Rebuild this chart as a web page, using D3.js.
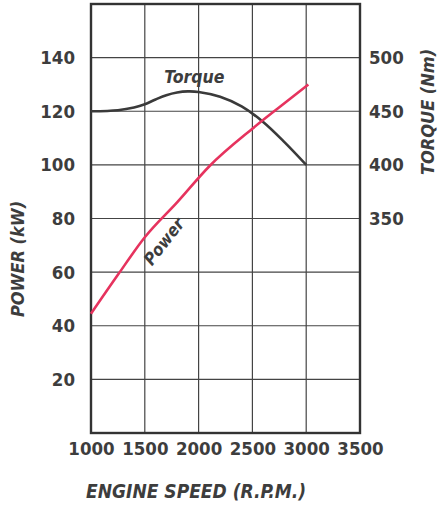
<!DOCTYPE html>
<html><head><meta charset="utf-8">
<script src="https://cdn.jsdelivr.net/npm/d3@7/dist/d3.min.js"></script>
<style>
html,body{margin:0;padding:0;background:#fff;}
text{font-family:"DejaVu Sans Condensed","Liberation Sans Narrow",sans-serif;font-weight:bold;fill:#3d3d3d;}
</style></head>
<body>
<svg id="chart" width="441" height="508"></svg>
<script>
const xTicks = [1000,1500,2000,2500,3000,3500];
const powerTicks = [20,40,60,80,100,120,140];
const torqueTicks = [350,400,450,500];
const torqueRpm = [1000,1250,1400,1500,1600,1700,1800,1900,2000,2200,2400,2600,2800,3000];
const torqueNm  = [450,451,453.5,456.5,461,465,467.5,468.5,468,463.5,454.5,440,421,400];
const powerRpm = [1000,1250,1500,1800,2100,2500,2750,3020];
const powerKw  = [44.5,59,73,86,99.5,113.5,121.5,130];

const svg = d3.select("#chart");
const L=91,R=360,T=4,B=433;
const x = d3.scaleLinear().domain([1000,3500]).range([L,R]);
const yP = d3.scaleLinear().domain([0,160]).range([B,T]);
const yT = d3.scaleLinear().domain([150,550]).range([B,T]);

// grid
const g = svg.append("g");
g.selectAll(".h").data(powerTicks).join("line")
 .attr("x1",L).attr("x2",R).attr("y1",d=>yP(d)).attr("y2",d=>yP(d))
 .attr("stroke","#444").attr("stroke-width",1.2);
g.selectAll(".v").data(xTicks.slice(1,-1)).join("line")
 .attr("y1",T).attr("y2",B).attr("x1",d=>x(d)).attr("x2",d=>x(d))
 .attr("stroke","#444").attr("stroke-width",1.2);
svg.append("rect").attr("x",L).attr("y",T).attr("width",R-L).attr("height",B-T)
 .attr("fill","none").attr("stroke","#333").attr("stroke-width",2.4);

// axes (labels only)
const axL = d3.axisLeft(yP).tickValues(powerTicks).tickSize(0).tickPadding(16);
const axR = d3.axisRight(yT).tickValues(torqueTicks).tickSize(0).tickPadding(9);
const axB = d3.axisBottom(x).tickValues(xTicks).tickSize(0).tickPadding(9).tickFormat(d3.format("d"));
function style(sel){sel.select(".domain").remove();sel.selectAll("text").attr("font-size",18.5).attr("fill","#3d3d3d").style("font-family",null);}
svg.append("g").attr("transform",`translate(${L},0)`).call(axL).call(style);
svg.append("g").attr("transform",`translate(${R},0)`).call(axR).call(style);
svg.append("g").attr("transform",`translate(0,${B})`).call(axB).call(style);

// curves
const torqueData = torqueRpm.map((r,i)=>[r,torqueNm[i]]);
const powerData = powerRpm.map((r,i)=>[r,powerKw[i]]);
svg.append("path").datum(torqueData)
 .attr("d",d3.line().x(d=>x(d[0])).y(d=>yT(d[1])).curve(d3.curveCatmullRom.alpha(0.5)))
 .attr("fill","none").attr("stroke","#3a3a3a").attr("stroke-width",2.6);
svg.append("path").datum(powerData)
 .attr("d",d3.line().x(d=>x(d[0])).y(d=>yP(d[1])).curve(d3.curveMonotoneX))
 .attr("fill","none").attr("stroke","#e6335e").attr("stroke-width",2.6);

// series labels
svg.append("text").attr("x",x(1680)).attr("y",yP(130.5)).attr("font-size",17.5).attr("font-style","italic").text("Torque");
svg.append("text").attr("transform",`translate(${x(1720)},${yP(70)}) rotate(-52)`)
 .attr("text-anchor","middle").attr("font-size",17).attr("font-style","italic").text("Power");

// axis titles
svg.append("text").attr("x",196).attr("y",498).attr("text-anchor","middle").attr("font-size",19).attr("font-style","italic").text("ENGINE SPEED (R.P.M.)");
svg.append("text").attr("transform","translate(24,259) rotate(-90)").attr("text-anchor","middle").attr("font-size",18).attr("font-style","italic").text("POWER (kW)");
svg.append("text").attr("transform","translate(434,112) rotate(-90)").attr("text-anchor","middle").attr("font-size",18).attr("font-style","italic").text("TORQUE (Nm)");
</script>
</body></html>
